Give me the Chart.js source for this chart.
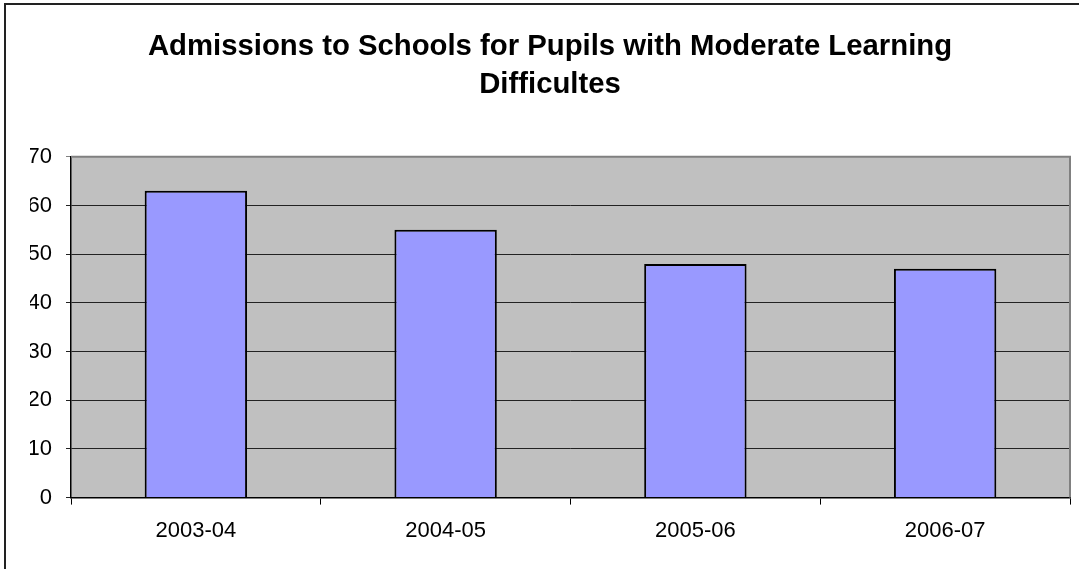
<!DOCTYPE html>
<html>
<head>
<meta charset="utf-8">
<script src="https://cdn.jsdelivr.net/npm/chart.js@4.4.0/dist/chart.umd.min.js"></script>
<style>
  html, body { margin: 0; padding: 0; background: #fff; }
  #wrap { position: relative; width: 1079px; height: 569px; }
</style>
</head>
<body>
<div id="wrap"><canvas id="chart" width="1079" height="569"></canvas></div>
<script>
// admissions per school year
var years = ["2003-04", "2004-05", "2005-06", "2006-07"];
var admissions = [63, 55, 48, 47];
var yTicks = [0, 10, 20, 30, 40, 50, 60, 70];
var titleLines = ["Admissions to Schools for Pupils with Moderate Learning", "Difficultes"];

var FONT = "'Liberation Sans', Arial, sans-serif";

// outer frame + grey plot background
var framePlugin = {
	id: "frame",
	beforeDraw: function(chart) {
		var ctx = chart.ctx;
		var a = chart.chartArea;
		ctx.save();
		ctx.fillStyle = "#fff";
		ctx.fillRect(0, 0, chart.width, chart.height);
		ctx.strokeStyle = "#222";
		ctx.lineWidth = 2;
		ctx.strokeRect(5, 4, chart.width + 20, chart.height + 20);
		ctx.fillStyle = "#c0c0c0";
		ctx.fillRect(a.left, a.top, a.right - a.left, a.bottom - a.top);
		ctx.restore();
	},
	afterDatasetsDraw: function(chart) {
		var ctx = chart.ctx;
		var a = chart.chartArea;
		ctx.save();
		ctx.strokeStyle = "#808080";
		ctx.lineWidth = 2;
		ctx.beginPath();
		ctx.moveTo(a.left, a.top);
		ctx.lineTo(a.right, a.top);
		ctx.lineTo(a.right, a.bottom);
		ctx.stroke();
		ctx.restore();
	}
};

new Chart(document.getElementById("chart").getContext("2d"), {
	type: "bar",
	data: {
		labels: years,
		datasets: [
			{
				label: "Admissions",
				data: admissions,
				backgroundColor: "#9999ff",
				borderColor: "#000",
				borderWidth: 2,
				barPercentage: 0.41,
				categoryPercentage: 1.0
			}
		]
	},
	options: {
		responsive: false,
		animation: false,
		layout: { padding: { left: 30, right: 9, top: 0, bottom: 12 } },
		plugins: {
			legend: { display: false },
			tooltip: { enabled: false },
			title: {
				display: true,
				text: titleLines,
				color: "#000",
				font: { family: FONT, size: 29.3, weight: "bold", lineHeight: 1.3 },
				padding: { top: 28, bottom: 52.6 }
			}
		},
		scales: {
			x: {
				offset: true,
				grid: {
					offset: true,
					drawOnChartArea: false,
					drawTicks: true,
					tickLength: 7,
					color: "#000"
				},
				border: { color: "#000", width: 1.5 },
				ticks: {
					color: "#000",
					font: { family: FONT, size: 22 },
					padding: 13,
					maxRotation: 0
				}
			},
			y: {
				min: 0,
				max: 70,
				afterFit: function(scale) { scale.width = 41; },
				afterBuildTicks: function(scale) {
					scale.ticks = yTicks.map(function(v) { return { value: v }; });
				},
				grid: {
					color: function(c) { return c.tick && c.tick.value === 70 ? "#808080" : "#222"; },
					lineWidth: 1,
					tickLength: 5
				},
				border: { color: "#000", width: 1.5 },
				ticks: {
					color: "#000",
					font: { family: FONT, size: 22 },
					padding: 14
				}
			}
		}
	},
	plugins: [framePlugin]
});
</script>
</body>
</html>
